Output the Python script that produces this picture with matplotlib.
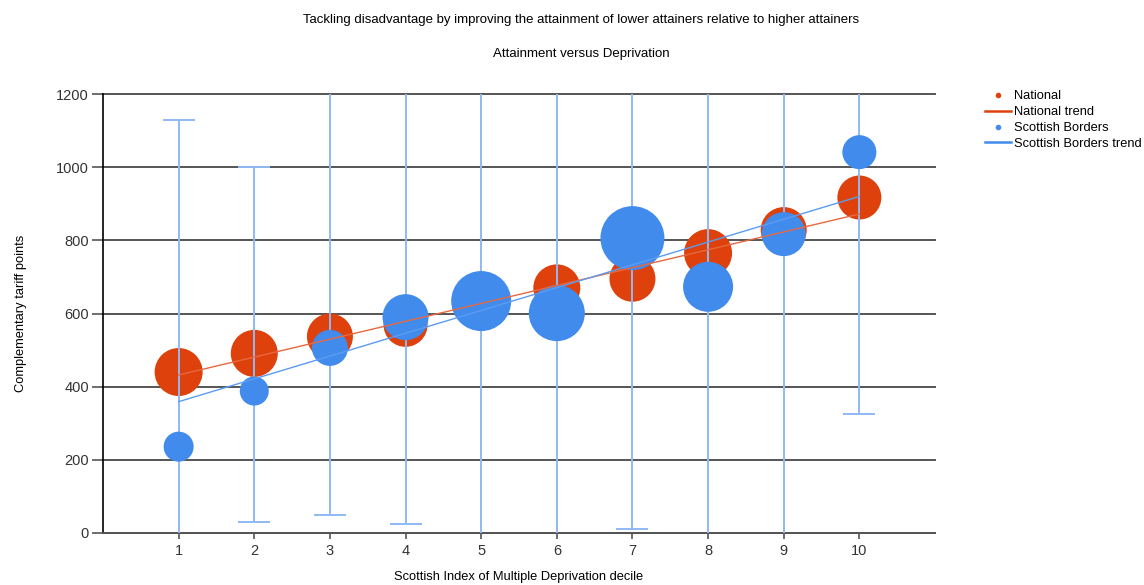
import numpy as np
from matplotlib import pyplot as plt
from matplotlib.lines import Line2D

# data
deciles = [1, 2, 3, 4, 5, 6, 7, 8, 9, 10]
national = [440, 491, 537, 569, 628, 670, 695, 765, 828, 917]
borders = [236, 388, 506, 590, 634, 601, 806, 673, 817, 1041]
# relative bubble weights (cohort size)
national_weight = [24, 23.5, 23, 22, 23, 23.5, 23, 24, 23, 22]
borders_weight = [15, 14.5, 18, 23, 30, 28, 32, 25, 22, 17]
# Scottish Borders range (values beyond the axis are clipped)
borders_low = [-50, 30, 50, 25, -50, -50, 11, -50, -50, 325]
borders_high = [1130, 1000, 1300, 1300, 1300, 1300, 1300, 1300, 1300, 1300]
# trend lines, value at decile 1 and decile 10
trend_x = [1, 10]
national_trend = [432, 872]
borders_trend = [359, 920]

RED = '#de410b'
BLUE = '#418bed'
LIGHT = '#8fbaf5'
GRID = '#555555'

plt.rcParams['font.family'] = ['Liberation Sans', 'DejaVu Sans']

fig = plt.figure(figsize=(11.44, 5.85), dpi=100)
ax = fig.add_axes([103 / 1144, 52 / 585, 832 / 1144, 439 / 585])


def bubble(w):
    return (np.array(w) * 2 * 0.72) ** 2


ax.scatter(deciles, national, s=bubble(national_weight), color=RED, edgecolors='none', zorder=3)

b = np.array(borders)
yerr = [b - np.array(borders_low), np.array(borders_high) - b]
ax.errorbar(deciles, borders, yerr=yerr, fmt='none', ecolor=LIGHT, elinewidth=1.4,
            capsize=11.5, capthick=1.4, zorder=4)

ax.scatter(deciles, borders, s=bubble(borders_weight), color=BLUE, edgecolors='none', zorder=5)

ax.plot(trend_x, national_trend, color='#e8683f', lw=1.0, zorder=6)
ax.plot(trend_x, borders_trend, color='#5b9cf2', lw=1.0, zorder=6)

ax.set_xlim(0, 11)
ax.set_ylim(0, 1200)
ax.set_xticks(deciles)
ax.set_yticks(range(0, 1201, 200))
ax.yaxis.grid(True, color=GRID, lw=1.4, zorder=0)
for gl in ax.get_ygridlines():
    gl.set_clip_on(False)
ax.set_axisbelow(True)
for s in ['top', 'right']:
    ax.spines[s].set_visible(False)
ax.spines['left'].set_color('black')
ax.spines['left'].set_linewidth(1.2)
ax.spines['bottom'].set_color(GRID)
ax.spines['bottom'].set_linewidth(1.4)
ax.tick_params(axis='y', length=8, width=1.2, color=GRID, labelsize=10.5, pad=2, labelcolor='#333333')
ax.tick_params(axis='x', length=4, width=1.2, color=GRID, labelsize=10.5, pad=4, labelcolor='#333333')

ax.set_xlabel('Scottish Index of Multiple Deprivation decile', fontsize=9.3, labelpad=9)
ax.set_ylabel('Complementary tariff points', fontsize=9.3, labelpad=21)

fig.text(581 / 1144, 1 - 20 / 585,
         'Tackling disadvantage by improving the attainment of lower attainers relative to higher attainers',
         ha='center', va='center', fontsize=9.5)
fig.text(581 / 1144, 1 - 54 / 585, 'Attainment versus Deprivation', ha='center', va='center', fontsize=9.5)

handles = [
    Line2D([], [], ls='none', marker='o', ms=3, color=RED),
    Line2D([], [], color=RED, lw=1.8),
    Line2D([], [], ls='none', marker='o', ms=3, color=BLUE),
    Line2D([], [], color=BLUE, lw=1.8),
]
labels = ['National', 'National trend', 'Scottish Borders', 'Scottish Borders trend']
fig.legend(handles, labels, loc='upper left', bbox_to_anchor=(980 / 1144, 1 - 85 / 585),
           frameon=False, fontsize=9.3, handlelength=2.0, handletextpad=0.25,
           labelspacing=0.3, borderaxespad=0)

fig.savefig('out.png', dpi=100)
